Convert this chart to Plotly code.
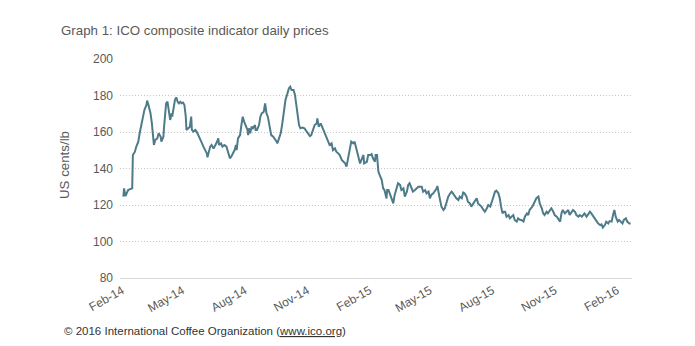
import plotly.graph_objects as go

# ICO composite indicator, daily prices (US cents/lb)
dates = [
    "2014-02-03", "2014-02-04", "2014-02-06", "2014-02-10", "2014-02-12", "2014-02-16",
    "2014-02-17", "2014-02-20", "2014-02-22", "2014-02-25", "2014-02-27", "2014-03-02",
    "2014-03-04", "2014-03-06", "2014-03-09", "2014-03-10", "2014-03-12", "2014-03-15",
    "2014-03-17", "2014-03-19", "2014-03-20", "2014-03-22", "2014-03-25", "2014-03-27",
    "2014-03-30", "2014-03-31", "2014-04-03", "2014-04-04", "2014-04-06", "2014-04-07",
    "2014-04-09", "2014-04-11", "2014-04-13", "2014-04-15", "2014-04-16", "2014-04-18",
    "2014-04-20", "2014-04-22", "2014-04-24", "2014-04-26", "2014-04-28", "2014-04-30",
    "2014-05-02", "2014-05-04", "2014-05-06", "2014-05-07", "2014-05-10", "2014-05-12",
    "2014-05-14", "2014-05-15", "2014-05-17", "2014-05-20", "2014-05-22", "2014-05-25",
    "2014-05-27", "2014-05-30", "2014-06-01", "2014-06-03", "2014-06-06", "2014-06-07",
    "2014-06-09", "2014-06-11", "2014-06-13", "2014-06-16",
    "2014-06-20", "2014-06-23", "2014-06-24", "2014-06-27", "2014-06-29", "2014-07-02",
    "2014-07-05", "2014-07-08", "2014-07-10", "2014-07-12", "2014-07-15", "2014-07-17",
    "2014-07-19", "2014-07-20", "2014-07-22", "2014-07-25", "2014-07-27", "2014-07-29",
    "2014-07-31", "2014-08-02", "2014-08-05", "2014-08-06", "2014-08-07", "2014-08-09",
    "2014-08-11", "2014-08-13", "2014-08-16", "2014-08-17", "2014-08-19", "2014-08-22",
    "2014-08-24", "2014-08-26", "2014-08-29", "2014-08-31", "2014-09-02", "2014-09-04",
    "2014-09-07", "2014-09-09", "2014-09-12", "2014-09-14", "2014-09-17", "2014-09-18",
    "2014-09-20", "2014-09-23", "2014-09-25", "2014-09-28", "2014-09-30", "2014-10-03",
    "2014-10-05", "2014-10-07", "2014-10-09", "2014-10-12", "2014-10-14", "2014-10-16",
    "2014-10-18", "2014-10-20", "2014-10-22", "2014-10-25", "2014-10-28", "2014-10-31",
    "2014-11-02", "2014-11-05", "2014-11-07",
    "2014-11-12", "2014-11-15", "2014-11-16", "2014-11-18", "2014-11-21", "2014-11-23",
    "2014-11-25", "2014-11-27", "2014-11-29", "2014-12-02", "2014-12-04", "2014-12-07",
    "2014-12-09", "2014-12-12", "2014-12-14", "2014-12-17", "2014-12-19", "2014-12-22",
    "2014-12-24", "2014-12-27", "2014-12-29", "2014-12-31", "2015-01-03", "2015-01-05",
    "2015-01-08", "2015-01-10", "2015-01-13", "2015-01-15", "2015-01-18", "2015-01-20",
    "2015-01-23", "2015-01-24", "2015-01-28", "2015-01-30", "2015-02-02", "2015-02-04",
    "2015-02-06", "2015-02-09", "2015-02-10", "2015-02-12", "2015-02-14", "2015-02-16",
    "2015-02-19", "2015-02-21", "2015-02-23", "2015-02-26", "2015-02-27", "2015-03-01",
    "2015-03-03", "2015-03-05", "2015-03-08", "2015-03-10", "2015-03-13", "2015-03-15",
    "2015-03-18", "2015-03-20", "2015-03-23", "2015-03-25", "2015-03-28", "2015-03-30",
    "2015-04-01", "2015-04-04", "2015-04-06", "2015-04-09", "2015-04-11", "2015-04-14",
    "2015-04-16",
    "2015-04-19", "2015-04-21", "2015-04-24", "2015-04-26", "2015-04-29", "2015-05-01",
    "2015-05-03", "2015-05-06", "2015-05-08", "2015-05-11", "2015-05-12", "2015-05-14",
    "2015-05-16", "2015-05-18", "2015-05-21", "2015-05-23", "2015-05-26", "2015-05-28",
    "2015-05-31", "2015-06-02", "2015-06-04", "2015-06-07", "2015-06-09", "2015-06-12",
    "2015-06-14", "2015-06-17", "2015-06-19", "2015-06-21", "2015-06-24", "2015-06-26",
    "2015-06-29", "2015-07-01", "2015-07-04", "2015-07-06", "2015-07-09", "2015-07-11",
    "2015-07-14", "2015-07-16", "2015-07-19", "2015-07-21", "2015-07-24", "2015-07-26",
    "2015-07-29", "2015-07-31", "2015-08-02", "2015-08-05", "2015-08-07", "2015-08-10",
    "2015-08-12", "2015-08-14", "2015-08-16", "2015-08-18", "2015-08-20", "2015-08-22",
    "2015-08-25", "2015-08-27", "2015-08-30", "2015-09-01", "2015-09-03", "2015-09-06",
    "2015-09-08", "2015-09-11", "2015-09-13", "2015-09-16", "2015-09-18", "2015-09-21",
    "2015-09-23", "2015-09-25",
    "2015-09-29", "2015-10-02", "2015-10-05", "2015-10-08", "2015-10-10", "2015-10-13",
    "2015-10-15", "2015-10-17", "2015-10-20", "2015-10-22", "2015-10-25", "2015-10-27",
    "2015-10-30", "2015-11-01", "2015-11-04", "2015-11-06", "2015-11-09", "2015-11-11",
    "2015-11-13", "2015-11-16", "2015-11-18", "2015-11-21", "2015-11-23", "2015-11-26",
    "2015-11-28", "2015-12-01", "2015-12-03", "2015-12-06", "2015-12-08", "2015-12-11",
    "2015-12-13", "2015-12-15", "2015-12-18", "2015-12-20", "2015-12-23", "2015-12-25",
    "2015-12-28", "2015-12-30", "2016-01-02", "2016-01-04", "2016-01-07", "2016-01-09",
    "2016-01-11", "2016-01-14", "2016-01-16", "2016-01-19", "2016-01-21", "2016-01-24",
    "2016-01-26", "2016-01-28", "2016-01-30", "2016-02-02", "2016-02-04", "2016-02-07",
    "2016-02-09", "2016-02-11", "2016-02-14", "2016-02-16", "2016-02-19", "2016-02-21",
]

prices = [
    124.6, 129.1, 124.9, 128.2, 128.6, 129.1,
    147.4, 149.2, 152.0, 154.7, 159.3, 164.7,
    169.3, 172.1, 174.8, 177.2, 174.8, 170.2,
    164.7, 154.7, 152.9, 155.6, 156.5, 159.3,
    157.4, 154.7, 157.4, 162.9, 170.2, 175.7,
    176.6, 172.1, 166.6, 170.2, 168.4, 173.0,
    177.5, 179.0, 176.6, 175.7, 176.6, 175.7,
    176.1, 174.8, 168.4, 161.1, 162.0, 162.9,
    168.4, 161.1, 160.2, 161.1, 160.2, 157.4,
    156.5, 153.8, 152.0, 150.1, 148.3, 146.1,
    149.2, 152.0, 152.9, 151.0,
    153.8, 156.5, 152.9, 153.8, 152.0, 152.9,
    152.0, 147.4, 145.6, 146.5, 148.3, 150.1,
    152.9, 150.1, 156.5, 158.3, 163.8, 168.4,
    165.7, 163.8, 161.1, 158.3, 162.0, 159.3,
    162.9, 162.0, 163.8, 161.1, 161.1, 163.8,
    168.4, 170.2, 171.1, 175.7, 170.2, 168.4,
    162.0, 158.3, 157.4, 156.5, 154.7, 153.8,
    155.6, 159.3, 163.8, 171.1, 177.5, 181.2,
    183.9, 184.8, 183.0, 183.0, 180.3, 174.8,
    168.4, 163.8, 162.0, 162.4, 162.0, 160.2,
    159.3, 157.8, 158.3,
    163.8, 164.7, 167.5, 162.9, 164.7, 162.9,
    161.1, 159.3, 157.4, 154.7, 152.9, 153.8,
    150.1, 151.0, 149.2, 148.3, 147.4, 144.7,
    143.7, 142.8, 141.0, 144.7, 151.0, 154.7,
    153.8, 154.7, 150.1, 147.4, 142.8, 144.7,
    147.4, 142.8, 143.7, 147.4, 147.4, 147.9,
    145.6, 143.7, 147.4, 147.4, 138.3, 136.4,
    133.7, 129.1, 128.2, 123.6, 128.2, 128.2,
    126.4, 123.6, 120.9, 125.5, 130.0, 131.9,
    131.0, 128.2, 129.1, 124.6, 127.3, 131.0,
    131.9, 129.1, 127.3, 128.2, 129.1, 130.0,
    130.0,
    130.0, 127.3, 128.2, 126.4, 127.3, 123.7,
    125.5, 126.4, 127.3, 129.1, 130.4, 127.3,
    122.7, 119.1, 117.3, 118.2, 121.8, 124.6,
    126.4, 127.3, 126.4, 124.6, 123.7, 122.7,
    124.6, 123.7, 126.8, 126.4, 124.6, 121.8,
    120.9, 119.1, 120.9, 121.8, 123.7, 120.9,
    120.0, 119.1, 117.3, 116.3, 118.2, 120.0,
    119.1, 120.9, 123.7, 127.3, 127.9, 126.4,
    123.7, 119.1, 115.4, 116.3, 116.3, 113.6,
    114.5, 112.7, 113.6, 114.5, 111.8, 110.9,
    112.7, 111.8, 111.8, 110.9, 113.6, 115.4,
    114.5, 117.3,
    119.1, 121.8, 123.7, 124.6, 120.9, 118.2,
    115.4, 114.5, 116.3, 115.4, 117.3, 118.2,
    116.3, 114.5, 113.6, 112.7, 110.9, 115.4,
    117.3, 115.4, 116.3, 117.3, 114.5, 116.3,
    117.3, 116.3, 114.5, 113.6, 114.5, 113.6,
    114.5, 115.4, 113.6, 114.5, 116.3, 115.4,
    113.6, 112.7, 110.9, 109.9, 109.0, 109.4,
    107.6, 109.0, 110.9, 109.9, 111.2, 110.9,
    114.5, 117.3, 113.6, 110.9, 111.8, 110.9,
    109.9, 111.8, 112.7, 110.9, 109.9, 109.9,
]

tick_dates = ["2014-02-01", "2014-05-01", "2014-08-01", "2014-11-01", "2015-02-01",
              "2015-05-01", "2015-08-01", "2015-11-01", "2016-02-01"]
tick_labels = ["Feb-14", "May-14", "Aug-14", "Nov-14", "Feb-15",
               "May-15", "Aug-15", "Nov-15", "Feb-16"]
y_ticks = [80, 100, 120, 140, 160, 180, 200]

FONT = "Liberation Sans, Arial, sans-serif"
GREY = "#595959"

fig = go.Figure()
fig.add_trace(go.Scatter(
    x=dates, y=prices, mode="lines",
    line=dict(color="#4e7b89", width=2),
    hoverinfo="skip", showlegend=False,
))

fig.update_layout(
    width=695, height=346,
    margin=dict(l=120, r=63, t=59, b=68),
    paper_bgcolor="white", plot_bgcolor="white",
    font=dict(family=FONT, color=GREY, size=12),
    title=dict(
        text="Graph 1: ICO composite indicator daily prices",
        xref="container", yref="container",
        x=61 / 695, y=1 - 30 / 346, xanchor="left", yanchor="middle",
        font=dict(family=FONT, size=13.3, color=GREY),
    ),
    xaxis=dict(
        type="date",
        range=["2014-01-29", "2016-02-23"],
        tickmode="array", tickvals=tick_dates, ticktext=tick_labels,
        tickangle=-30, showgrid=False, ticks="",
        showline=True, linecolor="#d9d9d9", linewidth=1,
        tickfont=dict(size=12, color=GREY),
        zeroline=False,
    ),
    yaxis=dict(
        range=[80, 200], tickmode="array", tickvals=y_ticks,
        showgrid=True, gridcolor="#c8c8c8", griddash="1px,2px", gridwidth=1,
        ticks="", showline=False, zeroline=False,
        tickfont=dict(size=12, color=GREY),
        ticklabelstandoff=6,
    ),
    annotations=[
        dict(
            text="US cents/lb", textangle=-90,
            xref="paper", yref="paper", x=-0.1074, y=0.516,
            xanchor="center", yanchor="middle", showarrow=False,
            font=dict(family=FONT, size=13.3, color=GREY),
        ),
        dict(
            text="© 2016 International Coffee Organization (<u>www.ico.org</u>)",
            xref="paper", yref="paper",
            x=(62 - 120) / 512, y=(278 - 331) / 219,
            xanchor="left", yanchor="middle", showarrow=False,
            font=dict(family=FONT, size=11.5, color="#333333"),
        ),
    ],
)

fig.write_html("out.html")
